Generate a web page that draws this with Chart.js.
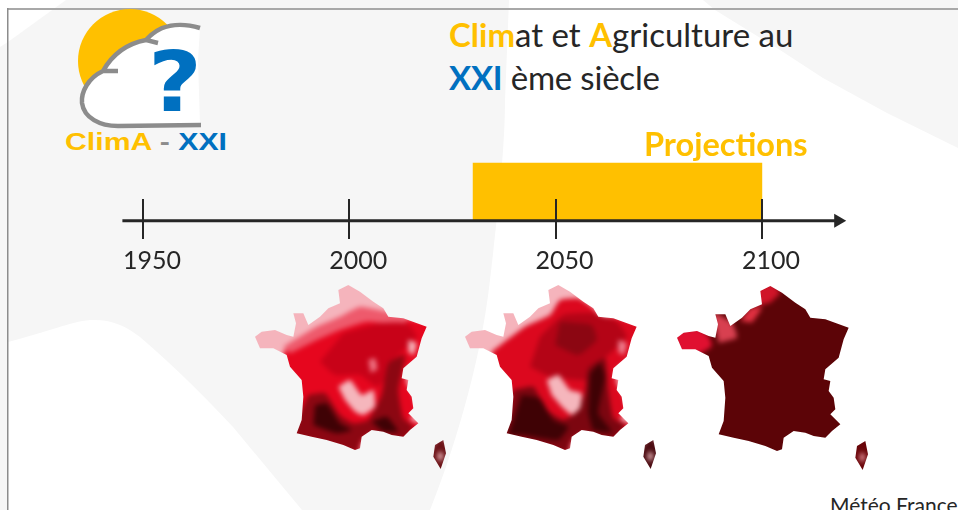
<!DOCTYPE html>
<html lang="fr">
<head>
<meta charset="utf-8">
<title>Climat et Agriculture au XXI ème siècle</title>
<script src="https://cdn.jsdelivr.net/npm/chart.js@4"></script>
<style>
    html, body { margin: 0; padding: 0; }
    body { position: relative; width: 958px; height: 510px; overflow: hidden; background: #f6f6f6; font-family: Lato, sans-serif; color: #262626; }
    .backdrop, .logo { position: absolute; left: 0; top: 0; }
    .label { position: absolute; white-space: nowrap; line-height: 1; }
    .title { left: 449px; font-size: 33px; }
    .gold { color: #ffc000; font-weight: 700; }
    .blue { color: #0070c0; font-weight: 700; }
    canvas { position: absolute; }
    .map-wrap { position: absolute; width: 230px; height: 200px; filter: blur(0.7px); }
    .map-wrap canvas { left: 0; top: 0; filter: blur(2.4px); }
</style>
</head>
<body>
<svg class="backdrop" width="958" height="510">
    <polygon fill="#fff" points="0,0 66,0 8,42 0,47"/>
    <path fill="#fff" d="M8 342 C50 331 70 322 90 320 C110 319 125 325 140 337 C175 367 205 397 233 427 L302 510 L8 510 Z"/>
    <path fill="#fff" d="M509 0 L703 0 L715 10 L780 50 L823 78 L887 113 L958 148 L958 510 L430 510 C450 460 480 370 490 280 C497 220 505 150 505 100 Z"/>
    <rect x="7" y="8" width="951" height="2" fill="#a8a8a8"/>
    <rect x="7" y="8" width="1.5" height="502" fill="#8c8c8c"/>
</svg>

<svg class="logo" width="240" height="160">
    <circle cx="130" cy="61" r="52" fill="#ffc000"/>
    <path fill="#fff" d="M200 28 C180 22 160 24 146 40 C125 44 112 55 103 71 C88 78 81 92 82 103 C84 118 100 126 118 126 L200 125 L198 60 Z"/>
    <path fill="none" stroke="#8c8c8c" stroke-width="4.5" d="M200 28 C180 22 160 24 146 40 L158 43 M146 40 C125 44 112 55 103 71 L118 71 M103 71 C88 78 81 92 82 103 C84 118 100 126 118 126 L201 125"/>
    <text x="148" y="111" font-family="'DejaVu Sans'" font-weight="700" font-size="84" fill="#0070c0" textLength="54" lengthAdjust="spacingAndGlyphs">?</text>
    <text x="65" y="150" font-family="'Liberation Sans'" font-weight="700" font-size="23" textLength="162" lengthAdjust="spacingAndGlyphs"><tspan fill="#ffc000">ClimA</tspan><tspan fill="#8c8c8c"> - </tspan><tspan fill="#0070c0">XXI</tspan></text>
</svg>

<canvas id="timeline" width="958" height="130" style="left:0;top:150px"></canvas>
<div class="map-wrap" style="left:240px;top:280px"><canvas id="map-1" width="230" height="200"></canvas></div>
<div class="map-wrap" style="left:450px;top:280px"><canvas id="map-2" width="230" height="200"></canvas></div>
<div class="map-wrap" style="left:662px;top:281px"><canvas id="map-3" width="230" height="200"></canvas></div>

<div class="label title" style="top:18px"><span class="gold">Clim</span>at et <span class="gold">A</span>griculture au</div>
<div class="label title" style="top:61px;letter-spacing:-0.2px"><span class="blue">XXI</span> ème siècle</div>
<div class="label gold" style="left:644px;top:128px;font-size:32.5px">Projections</div>
<div class="label" style="left:830px;top:494px;font-size:21px">Météo France</div>

<script>
// Frise chronologique
const tickYears = [1950, 2000, 2050, 2100];
const projectionYears = [2030, 2100];
const axisYears = [1945, 2118.5];

// Contours des cartes (unités de la carte, y vers le bas)
const franceCoast = [[45,170],[65,155],[105,150],[140,165],[160,170],[168,130],[160,100],[190,100],[205,135],[240,110],[265,85],[300,70],[295,30],[325,15],[360,35],[400,65],[430,85],[445,110],[490,115],[560,140],[545,175],[530,230],[490,265],[485,295],[505,300],[500,330],[515,350],[520,385],[505,400],[535,430],[510,450],[490,470],[455,465],[430,455],[395,450],[365,470],[360,505],[345,510],[310,495],[260,480],[215,470],[170,460],[185,420],[190,350],[185,300],[150,260],[140,225],[100,205],[60,205]];
const corsicaCoast = [[610,480],[618,520],[602,567],[580,530],[585,495]];
const corsicaRim = [[600,465],[645,520],[610,590],[555,530]];
const corsicaCore = [[600,512],[610,528],[600,545],[592,528]];
const wholeSheet = [[0,0],[690,0],[690,600],[0,600]];

const redZone1 = [[130,215],[230,165],[300,130],[360,95],[430,105],[490,115],[575,130],[560,200],[535,240],[500,270],[500,310],[520,340],[530,390],[510,420],[550,435],[500,490],[430,470],[395,465],[365,490],[355,530],[310,515],[215,490],[150,480],[170,420],[170,350],[165,300],[130,260]];
const fadeBand1 = [[130,200],[230,140],[300,110],[360,80],[440,95],[490,105],[500,135],[380,125],[300,150],[220,185],[150,220]];
const midZone1 = [[310,160],[420,130],[500,130],[530,170],[465,235],[435,300],[410,320],[360,285],[285,285],[240,245]];
const paleSpot1 = [[385,240],[405,235],[412,268],[392,278]];
const paleZone1 = [[295,320],[330,300],[365,345],[400,330],[405,380],[370,405],[345,395],[315,360]];
const eastWhite1 = [[505,180],[530,190],[520,225],[505,215]];
const darkZone1 = [[205,345],[255,340],[300,405],[340,430],[385,420],[425,345],[445,250],[495,225],[475,330],[490,415],[520,440],[490,480],[430,465],[395,460],[365,480],[350,520],[310,505],[215,480],[160,470],[175,410]];
const deepSouth1 = [[225,375],[260,370],[300,430],[335,450],[290,460],[220,435]];
const deepEast1 = [[395,425],[440,410],[475,455],[430,455]];

const redZone2 = [[125,215],[225,140],[300,105],[330,60],[385,55],[425,80],[455,110],[495,110],[575,135],[560,200],[535,240],[500,270],[500,310],[520,340],[530,390],[510,420],[550,435],[500,490],[430,470],[395,465],[365,490],[355,530],[310,515],[215,490],[150,480],[170,420],[170,350],[165,300],[130,260]];
const midZone2 = [[270,170],[340,105],[430,100],[500,125],[530,170],[465,235],[435,300],[390,300],[300,290],[240,260]];
const paleZone2 = [[290,300],[325,285],[360,330],[395,340],[390,385],[365,405],[340,385],[305,345]];
const darkZone2 = [[190,330],[250,320],[290,390],[340,420],[375,400],[405,340],[415,265],[465,235],[475,330],[490,415],[525,435],[490,480],[430,465],[395,460],[365,480],[350,520],[310,505],[215,480],[160,470],[175,410]];
const darkNorth2 = [[330,125],[425,135],[440,180],[385,225],[315,195]];
const deepSouth2 = [[215,345],[270,355],[310,420],[355,440],[325,480],[220,465],[175,465]];
const deepEast2 = [[420,280],[450,250],[465,290],[445,400],[485,455],[430,450],[415,400]];

const brittany3 = [[30,150],[110,140],[140,165],[150,195],[110,220],[50,225]];
const cotentin3 = [[150,90],[210,125],[225,170],[170,185]];
const caen3 = [[235,120],[265,80],[300,80],[270,125]];
const artois3 = [[285,75],[280,20],[330,5],[355,35],[325,65]];

const pink = '#f5b4bc', red = '#e6061e', pale = '#f5b6bc', dark = '#8c0712', deep = '#3f0205', maroon = '#5c0407';

const map1Zones = [
    [wholeSheet, pink], [redZone1, red], [fadeBand1, '#ee5a6c'], [midZone1, '#c80218'], [paleSpot1, '#ee7080'], [darkZone1, dark], [paleZone1, pale], [eastWhite1, pale], [deepSouth1, deep], [deepEast1, deep],
    [corsicaRim, '#6a1015'], [corsicaCore, '#f8c8cc']
];
const map2Zones = [
    [wholeSheet, pink], [redZone2, '#dc081e'], [midZone2, '#b40416'], [darkZone2, '#7c0610'], [darkNorth2, '#8c0612'], [paleZone2, pale], [eastWhite1, '#ee8090'], [deepSouth2, deep], [deepEast2, deep],
    [corsicaRim, '#4a0a10'], [corsicaCore, '#f8c8cc']
];
const map3Zones = [
    [wholeSheet, maroon], [brittany3, '#e01030'], [cotentin3, '#d84050'], [caen3, '#e03040'], [artois3, '#d01428'],
    [corsicaRim, '#6a0509'], [corsicaCore, '#f0a0a8']
];

function drawTimeline() {
    new Chart(document.getElementById('timeline'), {
        type: 'bar',
        data: {
            datasets: [
                {
                    type: 'line',
                    data: axisYears.map(year => ({ x: year, y: 0 })),
                    borderColor: '#262626',
                    borderWidth: 3,
                    pointRadius: [0, 8],
                    pointStyle: 'triangle',
                    pointRotation: 90,
                    pointBackgroundColor: '#262626',
                    pointBorderWidth: 0,
                    clip: false,
                    order: 1
                },
                {
                    data: [{ x: projectionYears, y: 29 }],
                    backgroundColor: '#ffc000',
                    barThickness: 58,
                    clip: false,
                    order: 2
                }
            ]
        },
        options: {
            indexAxis: 'y',
            responsive: false,
            animation: false,
            layout: { padding: { left: 122.4, right: 113.6, top: 49, bottom: 2 } },
            plugins: { legend: { display: false }, tooltip: { enabled: false } },
            scales: {
                x: {
                    type: 'linear',
                    min: 1945,
                    max: 2120,
                    afterBuildTicks: axis => { axis.ticks = tickYears.map(value => ({ value })); },
                    grid: { color: '#262626', lineWidth: 2, drawTicks: false, z: 1 },
                    border: { display: false },
                    ticks: {
                        color: '#262626',
                        font: { family: 'Lato', size: 25 },
                        padding: 7,
                        labelOffset: 9,
                        maxRotation: 0,
                        callback: value => String(value)
                    }
                },
                y: { type: 'linear', display: false, offset: false, min: -18, max: 22 }
            }
        }
    });
}

// Le contour découpe le canvas : la côte reste nette, l'intérieur est flouté
function coastClip() {
    const toPath = outline => 'M' + outline.map(([x, y]) => `${x / 3} ${y / 3}`).join(' L') + ' Z';
    return `path('${toPath(franceCoast)} ${toPath(corsicaCoast)}')`;
}

function drawMap(canvasId, zones) {
    const canvas = document.getElementById(canvasId);
    canvas.style.clipPath = coastClip();
    new Chart(canvas, {
        type: 'scatter',
        data: {
            datasets: zones.map(([outline, color], index) => ({
                data: outline.map(([x, y]) => ({ x, y })),
                showLine: true,
                fill: 'shape',
                tension: 0.15,
                borderWidth: 0,
                backgroundColor: color,
                pointRadius: 0,
                order: zones.length - index
            }))
        },
        options: {
            responsive: false,
            animation: false,
            layout: { padding: 0 },
            plugins: { legend: { display: false }, tooltip: { enabled: false } },
            scales: {
                x: { type: 'linear', display: false, min: 0, max: 690 },
                y: { type: 'linear', display: false, min: 0, max: 600, reverse: true }
            }
        }
    });
}

drawTimeline();
drawMap('map-1', map1Zones);
drawMap('map-2', map2Zones);
drawMap('map-3', map3Zones);
</script>
</body>
</html>
